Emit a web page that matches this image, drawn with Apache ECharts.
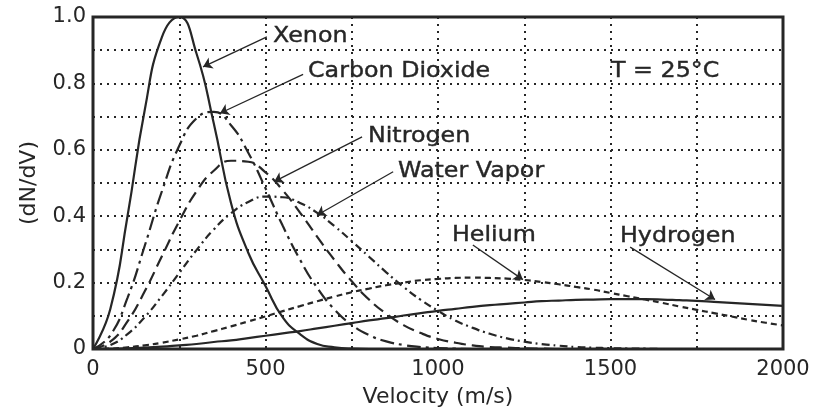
<!DOCTYPE html>
<html>
<head>
<meta charset="utf-8">
<script src="https://cdn.jsdelivr.net/npm/echarts@6/dist/echarts.min.js"></script>
<style>
  html, body { margin: 0; padding: 0; background: #fff; }
  #chart { width: 824px; height: 413px; }
</style>
</head>
<body>
<div id="chart"></div>
<script>
// velocity samples (m/s)
var velocity = [0, 50, 100, 150, 200, 250, 300, 350, 400, 450, 500, 550, 600, 650, 700, 750, 800, 850, 900, 950,
  1000, 1050, 1100, 1150, 1200, 1250, 1300, 1350, 1400, 1450, 1500, 1550, 1600, 1650, 1700, 1750, 1800, 1850, 1900, 1950, 2000];

// dN/dV
var xenon = [0, 0.12, 0.40, 0.72, 0.94, 1.0, 0.89, 0.68, 0.44, 0.29, 0.19, 0.095, 0.045, 0.015, 0.005, 0.001,
  0, 0, 0, 0, 0, 0, 0, 0, 0, 0, 0, 0, 0, 0, 0, 0, 0, 0, 0, 0, 0, 0, 0, 0, 0];
var carbonDioxide = [0, 0.041, 0.154, 0.311, 0.476, 0.612, 0.695, 0.714, 0.674, 0.591, 0.484, 0.371, 0.269, 0.184,
  0.119, 0.073, 0.042, 0.023, 0.012, 0.006, 0.003, 0.001, 0, 0, 0, 0, 0, 0, 0, 0, 0, 0, 0, 0, 0, 0, 0, 0, 0, 0, 0];
var nitrogen = [0, 0.022, 0.083, 0.174, 0.280, 0.385, 0.475, 0.537, 0.567, 0.564, 0.532, 0.478, 0.411, 0.338, 0.268,
  0.204, 0.149, 0.106, 0.072, 0.048, 0.030, 0.019, 0.011, 0.006, 0.004, 0.002, 0.001, 0, 0, 0, 0, 0, 0, 0, 0, 0, 0, 0, 0, 0, 0];
var waterVapor = [0, 0.012, 0.045, 0.096, 0.160, 0.229, 0.298, 0.360, 0.409, 0.443, 0.459, 0.457, 0.440, 0.410, 0.370,
  0.325, 0.278, 0.231, 0.187, 0.148, 0.115, 0.086, 0.064, 0.046, 0.032, 0.022, 0.015, 0.010, 0.006, 0.004, 0.0025,
  0.0015, 0.001, 0, 0, 0, 0, 0, 0, 0, 0];
var helium = [0, 0.001, 0.005, 0.011, 0.019, 0.029, 0.040, 0.054, 0.068, 0.083, 0.098, 0.114, 0.129, 0.144, 0.158,
  0.171, 0.182, 0.192, 0.200, 0.207, 0.211, 0.214, 0.215, 0.214, 0.212, 0.208, 0.202, 0.195, 0.187, 0.179, 0.169,
  0.159, 0.149, 0.139, 0.128, 0.118, 0.108, 0.098, 0.088, 0.079, 0.071];
var hydrogen = [0, 0.0004, 0.002, 0.004, 0.007, 0.011, 0.015, 0.021, 0.026, 0.033, 0.040, 0.047, 0.054, 0.062, 0.070,
  0.078, 0.086, 0.093, 0.101, 0.108, 0.115, 0.121, 0.127, 0.132, 0.136, 0.140, 0.144, 0.146, 0.148, 0.149, 0.150,
  0.150, 0.150, 0.149, 0.147, 0.145, 0.142, 0.139, 0.136, 0.133, 0.130];

var xTicks = [0, 500, 1000, 1500, 2000];
var yTicks = [0, 0.2, 0.4, 0.6, 0.8, 1.0];

var ink = '#262626';
var font = '"DejaVu Sans", sans-serif';

function pairs(vals) {
  return velocity.map(function (v, i) { return [v, vals[i]]; });
}

// arrow from label to curve, in data coords
function arrow(from, to) {
  return {
    symbol: ['none', 'arrow'],
    symbolSize: 9,
    silent: true,
    label: { show: false },
    emphasis: { disabled: true },
    lineStyle: { color: ink, width: 1.3, type: 'solid' },
    data: [[{ coord: from }, { coord: to }]]
  };
}

function curve(name, vals, dash, mark) {
  return {
    name: name,
    type: 'line',
    data: pairs(vals),
    showSymbol: false,
    smooth: 0.5,
    silent: true,
    lineStyle: { color: ink, width: 2.2, type: dash },
    markLine: mark
  };
}

// annotation text, a bit wider than the stock font
function note(text, x, y) {
  return {
    type: 'text', x: x, y: y, scaleX: 1.08, silent: true,
    style: { text: text, font: '22px ' + font, fill: ink, stroke: ink, lineWidth: 0.4, verticalAlign: 'middle' }
  };
}

var chart = echarts.init(document.getElementById('chart'));

var option = {
  backgroundColor: '#fff',
  animation: false,
  grid: {
    left: 93, right: 41, top: 17, bottom: 61,
    show: true, borderColor: ink, borderWidth: 3
  },
  xAxis: {
    type: 'value',
    min: 0, max: 2000, interval: 250,
    name: 'Velocity (m/s)',
    nameLocation: 'middle',
    nameGap: 37,
    nameTextStyle: { fontFamily: font, fontSize: 22, color: ink },
    axisLine: { show: false },
    axisTick: { show: false },
    axisLabel: {
      margin: 10, fontFamily: font, fontSize: 21, color: ink,
      formatter: function (v) { return xTicks.indexOf(v) >= 0 ? String(v) : ''; }
    },
    splitLine: { lineStyle: { color: ink, width: 2, type: [2, 5] } }
  },
  yAxis: {
    type: 'value',
    min: 0, max: 1, interval: 0.1,
    name: '(dN/dV)',
    nameLocation: 'middle',
    nameGap: 53,
    nameTextStyle: { fontFamily: font, fontSize: 22, color: ink },
    axisLine: { show: false },
    axisTick: { show: false },
    axisLabel: {
      margin: 7, fontFamily: font, fontSize: 21, color: ink,
      formatter: function (v) {
        var r = Math.round(v * 10) / 10;
        if (yTicks.indexOf(r) < 0) return '';
        return r === 0 ? '0' : r.toFixed(1);
      }
    },
    splitLine: { lineStyle: { color: ink, width: 2, type: [2, 5] } }
  },
  series: [
    curve('Xenon', xenon, 'solid', arrow([504, 0.94], [319, 0.85])),
    curve('Carbon Dioxide', carbonDioxide, [14, 5, 3, 5], arrow([609, 0.827], [368, 0.71])),
    curve('Nitrogen', nitrogen, [12, 6], arrow([780, 0.639], [525, 0.504])),
    curve('Water Vapor', waterVapor, [8, 4, 2, 4], arrow([870, 0.534], [649, 0.403])),
    curve('Helium', helium, [6, 4], arrow([1101, 0.313], [1246, 0.209])),
    curve('Hydrogen', hydrogen, 'solid', arrow([1557, 0.307], [1803, 0.149]))
  ],
  graphic: [
    note('Xenon', 273, 36),
    note('Carbon Dioxide', 308, 71),
    note('T = 25°C', 611, 71),
    note('Nitrogen', 368, 136),
    note('Water Vapor', 398, 171),
    note('Helium', 452, 235),
    note('Hydrogen', 620, 236)
  ]
};

chart.setOption(option);
</script>
</body>
</html>
